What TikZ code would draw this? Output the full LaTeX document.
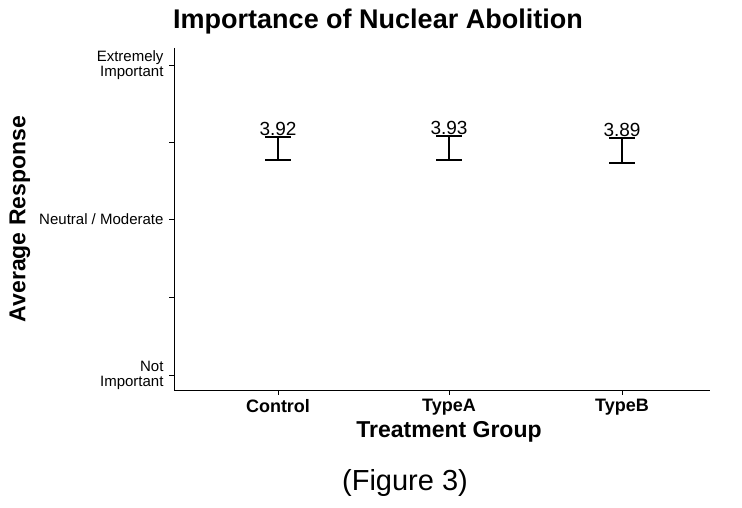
\documentclass[tikz,border=0pt]{standalone}
\usepackage{fontspec}
\setmainfont{Liberation Sans}
\begin{document}
\begin{tikzpicture}[x=1pt,y=-1pt,
  tick/.style={font=\fontsize{15}{15}\selectfont, align=right, anchor=east},
  grp/.style={font=\bfseries\fontsize{18}{19}\selectfont, anchor=north},
  val/.style={font=\fontsize{19}{20}\selectfont, anchor=base, inner sep=0pt},
  bar/.style={line width=1.4pt}]
\useasboundingbox (0,0) rectangle (742,508);
\node[font=\bfseries\fontsize{27}{28}\selectfont] (title) at (378,22) {Importance of Nuclear Abolition};
% axes
\coordinate (o) at (174,390);
\coordinate (ytop) at (174,48);
\coordinate (xend) at (710,390);
\draw[line width=1pt] (ytop) -- (o) -- (xend);
% y ticks
\foreach \y in {65,142,219,297,375} \draw[line width=0.8pt] (169,\y) -- (174,\y);
\node[tick] (t5) at (167,65) {Extremely\\Important};
\node[tick] (t3) at (167,219) {Neutral / Moderate};
\node[tick] (t1) at (167,375) {Not\\Important};
% x ticks and group labels
\foreach \x/\g in {278/Control,449/TypeA,622/TypeB} {
  \draw[line width=0.8pt] (\x,390) -- (\x,395);
  \node[grp] (g\g) at (\x,396) {\g};
}
\node[font=\bfseries\fontsize{23}{24}\selectfont] (xlab) at (449,432) {Treatment Group};
\node[font=\bfseries\fontsize{23}{24}\selectfont, rotate=90] (ylab) at (20,219) {Average Response};
% error bars with values
\foreach \x/\t/\b/\v/\n in {278/137/160/3.92/c,449/136/160/3.93/a,622/138/163/3.89/b} {
  \coordinate (top\n) at (\x,\t);
  \coordinate (bot\n) at (\x,\b);
  \draw[bar] ([xshift=-13]top\n) -- ([xshift=13]top\n);
  \draw[bar] ([xshift=-13]bot\n) -- ([xshift=13]bot\n);
  \draw[bar] (top\n) -- (bot\n);
  \node[val] (v\n) at ([yshift=1]top\n) {\v};
}
\node[font=\fontsize{29}{30}\selectfont] (cap) at (405,483) {(Figure 3)};
\end{tikzpicture}
\end{document}
